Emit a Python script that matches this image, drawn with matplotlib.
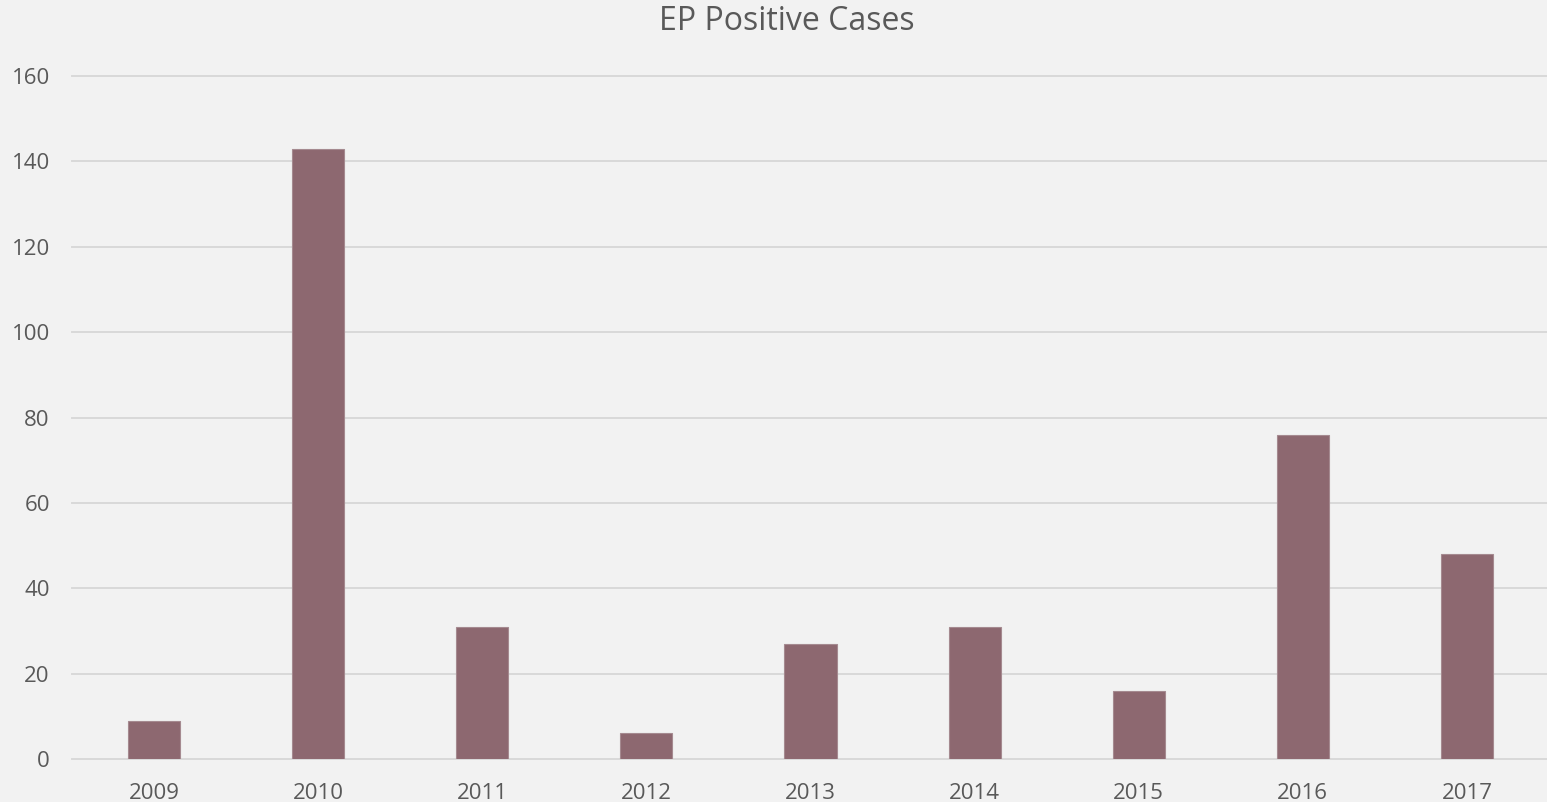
import matplotlib
matplotlib.use("Agg")
import matplotlib.pyplot as plt
import numpy as np

years = ["2009", "2010", "2011", "2012", "2013", "2014", "2015", "2016", "2017"]
cases = [9, 143, 31, 6, 27, 31, 16, 76, 48]
y_ticks = [0, 20, 40, 60, 80, 100, 120, 140, 160]

plt.rcParams['font.family'] = ['Open Sans', 'DejaVu Sans']
bg = '#F2F2F2'
txt = '#595959'

fig = plt.figure(figsize=(15.47, 8.02), dpi=100, facecolor=bg)
ax = fig.add_axes([72/1547, 43/802, 1477/1547, (759-76)/802])
ax.set_facecolor(bg)

x = np.arange(len(years))
ax.bar(x, cases, width=0.317, color='#8D6870', edgecolor='#A58A90', linewidth=0.8, zorder=3)

ax.set_xlim(-0.5, len(years) - 0.5)
ax.set_ylim(0, 160)
ax.set_yticks(y_ticks)
ax.set_yticklabels([str(v) for v in y_ticks])
ax.set_xticks(x)
ax.set_xticklabels(years)
ax.yaxis.grid(True, color='#D9D9D9', linewidth=1.4, zorder=0)
for gl in ax.get_ygridlines():
    gl.set_clip_on(False)
ax.set_axisbelow(True)
for s in ax.spines.values():
    s.set_visible(False)
ax.tick_params(axis='both', length=0, labelsize=16, labelcolor=txt)
ax.tick_params(axis='y', pad=16)
ax.tick_params(axis='x', pad=17)

fig.text(787/1547, 1 - 22/802, "EP Positive Cases", ha='center', va='center', fontsize=23, color=txt)

fig.savefig("out.png", dpi=100, facecolor=bg)
